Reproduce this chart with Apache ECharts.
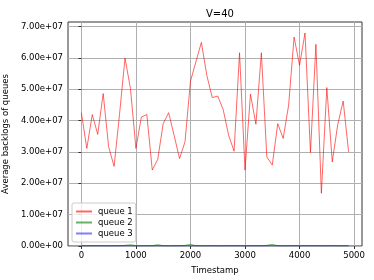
<!DOCTYPE html>
<html><head><meta charset="utf-8">
<script src="https://cdn.jsdelivr.net/npm/echarts@6/dist/echarts.min.js"></script>
<style>html,body{margin:0;padding:0;background:#fff}#c{width:374px;height:280px}</style>
</head><body><div id="c"></div>
<script>
const timestamps = [0,100,200,300,400,500,600,700,800,900,1000,1100,1200,1300,1400,1500,1600,1700,1800,1900,2000,2100,2200,2300,2400,2500,2600,2700,2800,2900,3000,3100,3200,3300,3400,3500,3600,3700,3800,3900,4000,4100,4200,4300,4400,4500,4600,4700,4800,4900];
const queue1 = [4.25e7,3.11e7,4.19e7,3.56e7,4.86e7,3.16e7,2.54e7,4.2e7,5.99e7,5.02e7,3.11e7,4.11e7,4.19e7,2.42e7,2.76e7,3.90e7,4.25e7,3.53e7,2.79e7,3.32e7,5.25e7,5.87e7,6.49e7,5.44e7,4.73e7,4.78e7,4.35e7,3.53e7,3.02e7,6.16e7,2.42e7,4.84e7,3.88e7,6.16e7,2.84e7,2.58e7,3.90e7,3.43e7,4.49e7,6.66e7,5.76e7,6.79e7,2.98e7,6.43e7,1.68e7,5.05e7,2.68e7,3.87e7,4.62e7,3.00e7];
const queue2 = [1e5,5e4,1e5,8e4,1e5,5e4,1e5,1e5,2e5,4e5,1e5,5e4,1e5,1e5,4e5,1e5,5e4,1e5,1e5,2e5,5e5,1e5,5e4,1e5,1e5,5e4,1e5,1e5,1e5,1e5,5e4,1e5,1e5,1e5,2e5,5e5,1e5,5e4,1e5,1e5,5e4,1e5,1e5,1e5,5e4,1e5,1e5,1e5,5e4,1e5];
const queue3 = [2e4,1e4,2e4,2e4,1e4,2e4,1e4,2e4,3e4,5e4,1e4,2e4,2e4,1e4,5e4,2e4,1e4,2e4,1e4,2e4,6e4,2e4,1e4,2e4,2e4,1e4,2e4,1e4,2e4,2e4,1e4,2e4,2e4,1e4,3e4,6e4,2e4,1e4,2e4,2e4,1e4,2e4,2e4,1e4,2e4,2e4,1e4,2e4,1e4,2e4];
const xTicks = [0,1000,2000,3000,4000,5000];
const yTicks = [0,1e7,2e7,3e7,4e7,5e7,6e7,7e7];
const title = 'V=40';
const seriesNames = ['queue 1','queue 2','queue 3'];

function expFmt(v){
  if (v === 0) return '0.00e+00';
  const e = Math.floor(Math.log10(Math.abs(v)));
  const m = v / Math.pow(10, e);
  return m.toFixed(2) + 'e' + (e >= 0 ? '+' : '-') + String(Math.abs(e)).padStart(2,'0');
}
const font = 'DejaVu Sans';
const chart = echarts.init(document.getElementById('c'), null, {renderer:'canvas'});
chart.setOption({
  animation:false,
  backgroundColor:'#fff',
  title:{text:title,left:215,top:4,textAlign:'center',textStyle:{fontFamily:font,fontSize:10,fontWeight:'normal',color:'#000'}},
  grid:{left:68,right:12,top:22,bottom:34,containLabel:false,outerBoundsMode:'none',show:true,borderColor:'#333',borderWidth:1,backgroundColor:'transparent'},
  legend:{
    orient:'vertical',left:72,top:203,data:seriesNames,
    icon:'rect',itemWidth:16,itemHeight:2,itemGap:2,
    textStyle:{fontFamily:font,fontSize:8.5,color:'#000',padding:[0,0,0,1]},
    backgroundColor:'rgba(255,255,255,0.8)',borderColor:'#ccc',borderWidth:1,borderRadius:2,padding:[4,3,4,4]
  },
  xAxis:{
    type:'value',min:-245,max:5145,
    name:'Timestamp',nameLocation:'middle',nameGap:20,
    nameTextStyle:{fontFamily:font,fontSize:8.5,color:'#000'},
    axisLine:{show:false},
    axisTick:{show:true,customValues:xTicks,length:3,inside:false,lineStyle:{color:'#333'}},
    axisLabel:{customValues:xTicks,formatter:v=>String(v),fontFamily:font,fontSize:8.5,color:'#000',margin:5},
    splitLine:{show:true,lineStyle:{color:'#b0b0b0',width:1}}
  },
  yAxis:{
    type:'value',min:0,max:7.14e7,
    name:'Average backlogs of queues',nameLocation:'middle',nameGap:52,nameRotate:90,
    nameTextStyle:{fontFamily:font,fontSize:8.5,color:'#000'},
    axisLine:{show:false},
    axisTick:{show:true,customValues:yTicks,length:3,lineStyle:{color:'#333'}},
    axisLabel:{customValues:yTicks,formatter:expFmt,fontFamily:font,fontSize:8.5,color:'#000',margin:5},
    splitLine:{show:true,lineStyle:{color:'#b0b0b0',width:1}}
  },
  series:[
    {name:seriesNames[0],type:'line',data:timestamps.map((t,i)=>[t,queue1[i]]),symbol:'none',lineStyle:{color:'rgba(255,0,0,0.6)',width:1},itemStyle:{color:'rgba(255,0,0,0.6)'}},
    {name:seriesNames[1],type:'line',data:timestamps.map((t,i)=>[t,queue2[i]]),symbol:'none',lineStyle:{color:'rgba(0,128,0,0.6)',width:1},itemStyle:{color:'rgba(0,128,0,0.6)'}},
    {name:seriesNames[2],type:'line',data:timestamps.map((t,i)=>[t,queue3[i]]),symbol:'none',lineStyle:{color:'rgba(0,0,255,0.5)',width:1},itemStyle:{color:'rgba(0,0,255,0.5)'}}
  ]
});
</script></body></html>
